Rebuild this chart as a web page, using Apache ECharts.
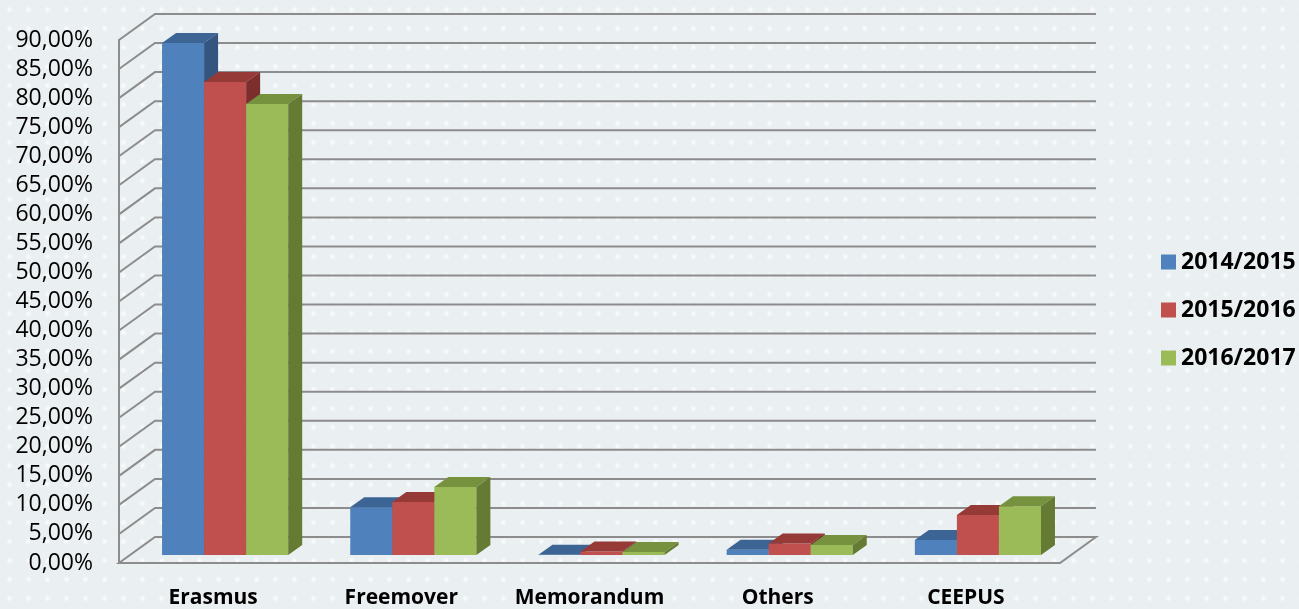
<!DOCTYPE html>
<html>
<head>
<meta charset="utf-8">
<script src="https://cdn.jsdelivr.net/npm/echarts@6/dist/echarts.min.js"></script>
<style>
html,body{margin:0;padding:0;background:#eaeff1;}
#chart{width:1299px;height:609px;}
</style>
</head>
<body>
<div id="chart"></div>
<script>
var categories = ['Erasmus', 'Freemover', 'Memorandum', 'Others', 'CEEPUS'];
var years = ['2014/2015', '2015/2016', '2016/2017'];
var values2014 = [88.1, 8.2, 0.05, 0.9, 2.6];
var values2015 = [81.4, 9.1, 0.6, 2.0, 6.9];
var values2016 = [77.6, 11.7, 0.5, 1.7, 8.4];
var yTicks = [0, 5, 10, 15, 20, 25, 30, 35, 40, 45, 50, 55, 60, 65, 70, 75, 80, 85, 90];

var frontColors = ['#4f81bd', '#c0504d', '#9bbb59'];
var topColors = ['#3c6595', '#953a37', '#77923f'];
var sideColors = ['#33557f', '#7c2e2c', '#657a33'];

// depth of the back wall and of the bars
var WALL_DX = 36, WALL_DY = -26;
var BAR_DX = 14, BAR_DY = -10;

// dotted background
var pat = document.createElement('canvas');
pat.width = 19; pat.height = 19;
var ctx = pat.getContext('2d');
ctx.fillStyle = '#eaeff1';
ctx.fillRect(0, 0, 19, 19);
var g = ctx.createRadialGradient(9.5, 9.5, 0, 9.5, 9.5, 3.5);
g.addColorStop(0, 'rgba(255,255,255,0.9)');
g.addColorStop(1, 'rgba(255,255,255,0)');
ctx.fillStyle = g;
ctx.fillRect(0, 0, 19, 19);

function wallItem(params, api) {
    var cs = params.coordSys;
    var v = api.value(1);
    var y = api.coord([0, v])[1];
    var x0 = cs.x, x1 = cs.x + cs.width;
    var style = {stroke: '#8c8c8c', lineWidth: 2, fill: null};
    if (v === 0) {
        return {
            type: 'polygon',
            shape: {points: [[x0, y], [x1, y], [x1 + WALL_DX, y + WALL_DY], [x0 + WALL_DX, y + WALL_DY]]},
            style: style
        };
    }
    return {
        type: 'polyline',
        shape: {points: [[x0, y], [x0 + WALL_DX, y + WALL_DY], [x1 + WALL_DX, y + WALL_DY]]},
        style: style
    };
}

function barItem(i) {
    return function (params, api) {
        var c = api.value(0), v = api.value(1);
        var base = api.coord([c, 0]);
        var top = api.coord([c, v]);
        var cw = api.size([1, 0])[0];
        var w = cw * 42 / 188;
        var x = base[0] - cw * 51 / 188 + w * i;
        var yb = base[1] - 8, yt = top[1] - 8;
        return {
            type: 'group',
            children: [
                {type: 'rect', shape: {x: x, y: yt, width: w, height: yb - yt}, style: {fill: frontColors[i]}},
                {type: 'polygon', shape: {points: [[x, yt], [x + w, yt], [x + w + BAR_DX, yt + BAR_DY], [x + BAR_DX, yt + BAR_DY]]}, style: {fill: topColors[i]}},
                {type: 'polygon', shape: {points: [[x + w, yt], [x + w + BAR_DX, yt + BAR_DY], [x + w + BAR_DX, yb + BAR_DY], [x + w, yb]]}, style: {fill: sideColors[i]}}
            ]
        };
    };
}

function toData(arr) {
    return arr.map(function (v, k) { return [k, v]; });
}

var myChart = echarts.init(document.getElementById('chart'));
var option = {
    backgroundColor: {image: pat, repeat: 'repeat'},
    animation: false,
    legend: {
        data: years,
        orient: 'vertical',
        left: 1156,
        top: 245,
        icon: 'rect',
        itemWidth: 15,
        itemHeight: 15,
        itemGap: 24,
        textStyle: {fontFamily: 'Open Sans', fontWeight: 'bold', fontSize: 23, lineHeight: 24, color: '#000'}
    },
    grid: {left: 119, right: 239, top: 40, bottom: 45},
    xAxis: {
        type: 'category',
        data: categories,
        axisLine: {show: false},
        axisTick: {show: false},
        axisLabel: {interval: 0, margin: 25, fontFamily: 'Open Sans', fontWeight: 'bold', fontSize: 21, lineHeight: 21, color: '#000'}
    },
    yAxis: {
        type: 'value',
        min: 0,
        max: 90,
        interval: 5,
        axisLine: {show: true, lineStyle: {color: '#8c8c8c', width: 2}},
        axisTick: {show: false},
        splitLine: {show: false},
        axisLabel: {
            margin: 26,
            fontFamily: 'Open Sans',
            fontSize: 23,
            color: '#000',
            formatter: function (v) { return v.toFixed(2).replace('.', ',') + '%'; }
        }
    },
    series: [
        {
            type: 'custom',
            silent: true,
            clip: false,
            z: 1,
            renderItem: wallItem,
            data: yTicks.map(function (t) { return [0, t]; })
        },
        {name: years[0], type: 'custom', clip: false, z: 2, itemStyle: {color: frontColors[0]}, renderItem: barItem(0), data: toData(values2014)},
        {name: years[1], type: 'custom', clip: false, z: 2, itemStyle: {color: frontColors[1]}, renderItem: barItem(1), data: toData(values2015)},
        {name: years[2], type: 'custom', clip: false, z: 2, itemStyle: {color: frontColors[2]}, renderItem: barItem(2), data: toData(values2016)}
    ]
};
myChart.setOption(option);
</script>
</body>
</html>
